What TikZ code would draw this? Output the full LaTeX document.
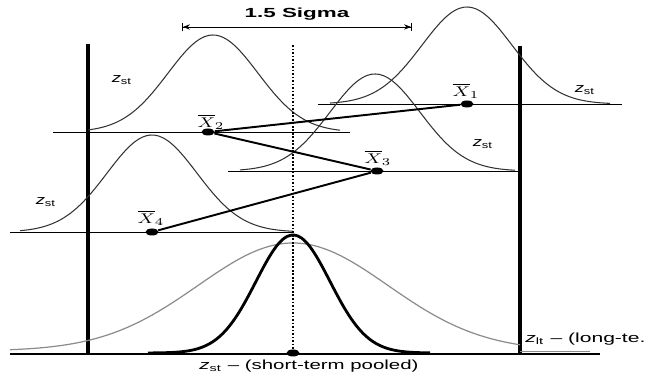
\documentclass[tikz,border=0pt]{standalone}
\usepackage{fontspec}
\setmainfont{Liberation Sans}
\usepackage{tikz}
\usetikzlibrary{arrows.meta, shapes.geometric}
\newcommand{\wide}[2][1.4]{\scalebox{#1}[1]{#2}}

\begin{document}
\begin{tikzpicture}[
    x=0.02cm, y=-0.02cm,
    axis/.style={line width=1.9pt},
    base/.style={line width=0.55pt},
    bell/.style={line width=0.6pt, black!80},
    sharp/.style={line width=1.6pt},
    wideb/.style={line width=0.7pt, black!45},
    link/.style={line width=1.1pt},
    midline/.style={line width=1pt, densely dotted},
    dot/.style={ellipse, fill, inner sep=0pt, minimum width=0.26cm, minimum height=0.14cm},
    lbl/.style={font=\fontsize{7.5}{9}\selectfont, inner sep=0pt},
    xlab/.style={font=\fontsize{8}{9}\selectfont, inner sep=0pt},
    dim/.style={line width=0.5pt, {Bar[width=5pt]Stealth[length=4pt,width=3pt]}-{Stealth[length=4pt,width=3pt]Bar[width=5pt]}},
]
\useasboundingbox (0,0) rectangle (649,374);

% Title and 1.5 sigma span
\node[lbl] (sigma) at (297,14) {\wide[1.7]{\bfseries 1.5 Sigma}};
\coordinate (sl) at (182,27);
\coordinate (sr) at (412,27);
\draw[dim] (sl) -- (sr);

% Frame lines
\draw[axis] (88,44) -- (88,355);
\draw[axis] (520,46) -- (520,355);
\draw[line width=1pt] (10,354) -- (600,354);
\draw[wideb, line width=0.5pt] (520,351) -- (590,351);

% Subgroup 2 (top left)
\draw[base] (53,132) -- (350,132);
\draw[bell] plot[domain=88:340, samples=70, smooth] (\x, {132-97*exp(-0.5*((\x-213)/45)^2)});
\node[lbl] (z2) at (122,80) {\wide{\textit{z}\textsubscript{st}}};

% Subgroup 1 (top right)
\draw[base] (318,104) -- (622,104);
\draw[bell] plot[domain=330:610, samples=70, smooth] (\x, {104-97*exp(-0.5*((\x-467)/45)^2)});
\node[lbl] (z1) at (585,90) {\wide{\textit{z}\textsubscript{st}}};

% Subgroup 3 (middle)
\draw[base] (228,171) -- (520,171);
\draw[bell] plot[domain=240:515, samples=70, smooth] (\x, {171-97*exp(-0.5*((\x-375)/45)^2)});
\node[lbl] (z3) at (483,144) {\wide{\textit{z}\textsubscript{st}}};

% Subgroup 4 (lower left)
\draw[base] (10,232) -- (293,232);
\draw[bell] plot[domain=20:293, samples=70, smooth] (\x, {232-97*exp(-0.5*((\x-152)/45)^2)});
\node[lbl] (z4) at (46,202) {\wide{\textit{z}\textsubscript{st}}};

% Pooled short-term and long-term curves
\draw[wideb] plot[domain=10:520, samples=90, smooth] (\x, {351-108*exp(-0.5*((\x-293)/95)^2)});
\draw[sharp] plot[domain=148:430, samples=80, smooth] (\x, {353-118*exp(-0.5*((\x-293)/37)^2)});

% Subgroup means
\node[dot] (x1) at (467,104) {};
\node[dot] (x2) at (208,132) {};
\node[dot] (x3) at (377,171) {};
\node[dot] (x4) at (152,232) {};
\node[xlab] (x1l) at (466,91) {\wide[1.3]{$\overline{X}_1$}};
\node[xlab] (x2l) at (211,122) {\wide[1.3]{$\overline{X}_2$}};
\node[xlab] (x3l) at (378,158) {\wide[1.3]{$\overline{X}_3$}};
\node[xlab] (x4l) at (151,218) {\wide[1.3]{$\overline{X}_4$}};

% Drift of the means
\draw[link] (x1) -- (x2);
\draw[link] (x2) -- (x3);
\draw[link] (x3) -- (x4);

% Grand mean
\node[dot] (pk) at (293,353) {};
\coordinate (top) at (293,45);
\draw[midline] (top) -- (pk);

% Bottom labels
\node[lbl] (stlab) at (309,366) {\wide[1.55]{\textit{z}\textsubscript{st} -- (short-term pooled)}};
\node[lbl, anchor=west] (ltlab) at (525,339) {\wide[1.6]{\textit{z}\textsubscript{lt} -- (long-te.}};

\end{tikzpicture}
\end{document}
